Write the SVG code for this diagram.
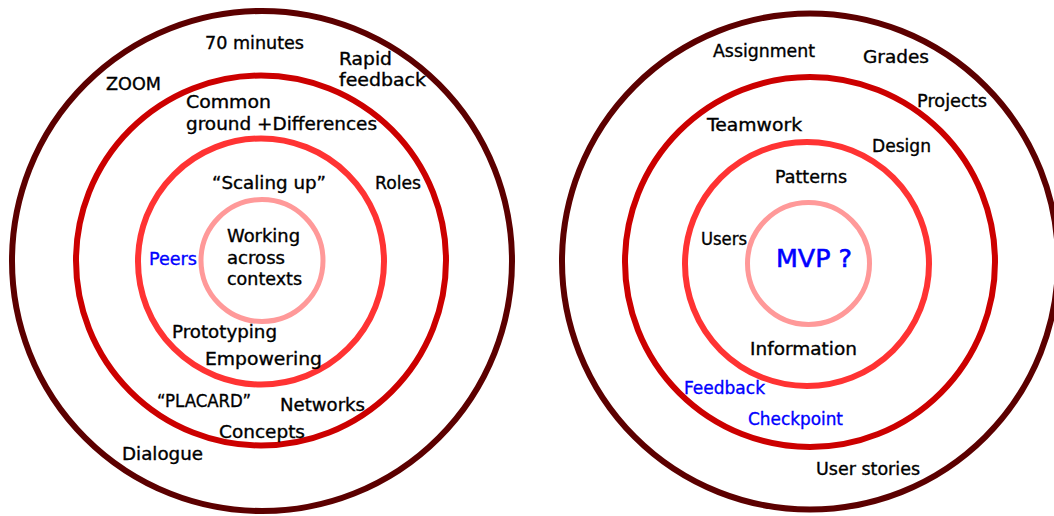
<svg xmlns="http://www.w3.org/2000/svg" width="1054" height="516" viewBox="0 0 1054 516">
<style>
.ring{fill:none}
.r1{stroke:#5c0000;stroke-width:6}
.r2{stroke:#cc0000;stroke-width:6}
.r3{stroke:#ff3333;stroke-width:6}
.r4{stroke:#ff9999;stroke-width:5}
text{font-family:"DejaVu Sans","Liberation Sans",sans-serif;font-size:17px;fill:#000;stroke:#000;stroke-width:0.35}
.blue{fill:#0000ff;stroke:#0000ff}
.big{font-size:25px;stroke-width:0.6}
</style>
<rect width="1054" height="516" fill="#fff"/>
<g id="left-target">
  <g id="left-rings">
    <circle class="ring r1" cx="262" cy="261" r="250"/>
    <circle class="ring r2" cx="261" cy="260.5" r="185"/>
    <circle class="ring r3" cx="261" cy="261.5" r="123"/>
    <circle class="ring r4" cx="262" cy="260.5" r="61"/>
  </g>
  <g id="left-outer-labels">
    <text x="205" y="49" textLength="99" lengthAdjust="spacingAndGlyphs">70 minutes</text>
    <text x="339" y="65" textLength="53" lengthAdjust="spacingAndGlyphs">Rapid</text>
    <text x="339" y="86" textLength="87" lengthAdjust="spacingAndGlyphs">feedback</text>
    <text x="106" y="90" textLength="55" lengthAdjust="spacingAndGlyphs">ZOOM</text>
    <text x="122" y="460" textLength="81" lengthAdjust="spacingAndGlyphs">Dialogue</text>
  </g>
  <g id="left-ring2-labels">
    <text x="186" y="108" textLength="85" lengthAdjust="spacingAndGlyphs">Common</text>
    <text x="186" y="130" textLength="191" lengthAdjust="spacingAndGlyphs">ground +Differences</text>
    <text x="375" y="189" textLength="46" lengthAdjust="spacingAndGlyphs">Roles</text>
    <text x="157" y="407" textLength="94" lengthAdjust="spacingAndGlyphs">“PLACARD”</text>
    <text x="280" y="411" textLength="85" lengthAdjust="spacingAndGlyphs">Networks</text>
    <text x="219" y="438" textLength="86" lengthAdjust="spacingAndGlyphs">Concepts</text>
  </g>
  <g id="left-ring3-labels">
    <text x="212" y="189" textLength="114" lengthAdjust="spacingAndGlyphs">“Scaling up”</text>
    <text class="blue" x="149" y="265" textLength="48" lengthAdjust="spacingAndGlyphs">Peers</text>
    <text x="172" y="338" textLength="105" lengthAdjust="spacingAndGlyphs">Prototyping</text>
    <text x="205" y="365" textLength="117" lengthAdjust="spacingAndGlyphs">Empowering</text>
  </g>
  <g id="left-core">
    <text x="227" y="242" textLength="73" lengthAdjust="spacingAndGlyphs">Working</text>
    <text x="227" y="264" textLength="58" lengthAdjust="spacingAndGlyphs">across</text>
    <text x="227" y="285" textLength="75" lengthAdjust="spacingAndGlyphs">contexts</text>
  </g>
</g>
<g id="right-target">
  <g id="right-rings">
    <circle class="ring r1" cx="810" cy="261.5" r="248"/>
    <circle class="ring r2" cx="810" cy="262" r="185"/>
    <circle class="ring r3" cx="807" cy="264" r="122"/>
    <circle class="ring r4" cx="808.5" cy="263.5" r="61"/>
  </g>
  <g id="right-outer-labels">
    <text x="713" y="57" textLength="102" lengthAdjust="spacingAndGlyphs">Assignment</text>
    <text x="863" y="63" textLength="66" lengthAdjust="spacingAndGlyphs">Grades</text>
    <text x="917" y="107" textLength="70" lengthAdjust="spacingAndGlyphs">Projects</text>
    <text x="816" y="475" textLength="104" lengthAdjust="spacingAndGlyphs">User stories</text>
  </g>
  <g id="right-ring2-labels">
    <text x="707" y="131" textLength="95" lengthAdjust="spacingAndGlyphs">Teamwork</text>
    <text x="872" y="152" textLength="59" lengthAdjust="spacingAndGlyphs">Design</text>
    <text class="blue" x="684" y="394" textLength="81" lengthAdjust="spacingAndGlyphs">Feedback</text>
    <text class="blue" x="748" y="425" textLength="95" lengthAdjust="spacingAndGlyphs">Checkpoint</text>
  </g>
  <g id="right-ring3-labels">
    <text x="775" y="183" textLength="72" lengthAdjust="spacingAndGlyphs">Patterns</text>
    <text x="701" y="245" textLength="46" lengthAdjust="spacingAndGlyphs">Users</text>
    <text x="750" y="355" textLength="107" lengthAdjust="spacingAndGlyphs">Information</text>
  </g>
  <g id="right-core">
    <text class="blue big" x="776" y="267" textLength="76" lengthAdjust="spacingAndGlyphs">MVP ?</text>
  </g>
</g>
</svg>
